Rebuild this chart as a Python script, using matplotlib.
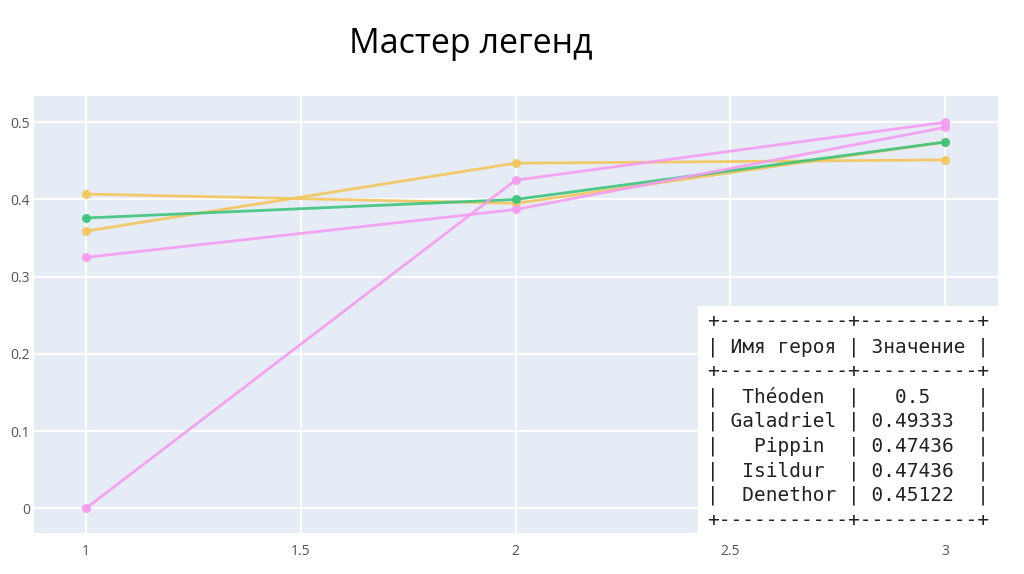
import matplotlib
matplotlib.use("Agg")
import matplotlib.pyplot as plt
from matplotlib.patches import Rectangle

# Data
x = [1, 2, 3]
heroes = ["Denethor", "Isildur", "Pippin", "Galadriel", "Théoden"]
series = {
    "Denethor": [0.359, 0.447, 0.45122],
    "Isildur": [0.407, 0.395, 0.47436],
    "Pippin": [0.376, 0.400, 0.47436],
    "Galadriel": [0.325, 0.387, 0.49333],
    "Théoden": [0.0, 0.425, 0.5],
}
colors = {
    "Denethor": "#f3c65b",
    "Isildur": "#f3c65b",
    "Pippin": "#3cc47c",
    "Galadriel": "#f59bf0",
    "Théoden": "#f59bf0",
}
table_order = ["Théoden", "Galadriel", "Pippin", "Isildur", "Denethor"]
header = ["Имя героя", "Значение"]
title = "Мастер легенд"

xticks = [1, 1.5, 2, 2.5, 3]
xticklabels = ["1", "1.5", "2", "2.5", "3"]
yticks = [0, 0.1, 0.2, 0.3, 0.4, 0.5]
yticklabels = ["0", "0.1", "0.2", "0.3", "0.4", "0.5"]

fig = plt.figure(figsize=(10.24, 5.74), dpi=100)
ax = fig.add_axes([34 / 1024, 41 / 574, 964 / 1024, 437 / 574])
ax.set_facecolor("#e5ecf6")
for s in ax.spines.values():
    s.set_visible(False)

for name in heroes:
    ax.plot(x, series[name], color=colors[name], lw=2, marker="o", ms=5.5,
            alpha=0.9, zorder=3)

ax.set_xlim(0.879, 3.123)
ax.set_ylim(-0.032, 0.534)
ax.set_xticks(xticks)
ax.set_xticklabels(xticklabels)
ax.set_yticks(yticks)
ax.set_yticklabels(yticklabels)
ax.grid(True, color="white", lw=1.5, zorder=0)
ax.set_axisbelow(True)
ax.tick_params(length=0, labelsize=10, labelcolor="#555555")
ax.tick_params(axis="y", pad=3)
ax.tick_params(axis="x", pad=8)
for lab in ax.get_xticklabels() + ax.get_yticklabels():
    lab.set_fontfamily("Open Sans")

fig.text(471 / 1024, 1 - 44 / 574, title, ha="center", va="center",
         fontsize=24.5, family="Open Sans", color="black")

# text table drawn over the plot
fig.patches.append(Rectangle((698 / 1024, 41 / 574), 300 / 1024, 227 / 574,
                             transform=fig.transFigure, facecolor="white",
                             edgecolor="none", zorder=5))
w1, w2 = 11, 10
border = "+" + "-" * w1 + "+" + "-" * w2 + "+"
rows = [border,
        "|" + (" " + header[0] + " ") + "|" + (" " + header[1] + " ") + "|",
        border]
for name in table_order:
    v = series[name][-1]
    rows.append("|" + (" " + name.center(w1 - 2) + " ") + "|"
                + (" " + str(v).center(w2 - 2) + " ") + "|")
rows.append(border)

y0 = 322
for i, r in enumerate(rows):
    fig.text(707 / 1024, 1 - (y0 + i * 24.8) / 574, r, ha="left", va="center",
             fontsize=14, family="DejaVu Sans Mono", color="#222222", zorder=6)

fig.savefig("out.png", dpi=100)
